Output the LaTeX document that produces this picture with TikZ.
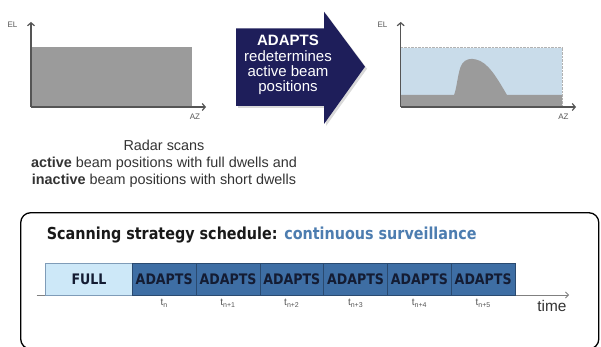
\documentclass[tikz,border=0pt]{standalone}
\usepackage{fontspec}
\setmainfont{Liberation Sans}
\newfontfamily\tah[FakeStretch=0.87]{DejaVu Sans}
\usetikzlibrary{arrows.meta,shadows}
\definecolor{navy}{HTML}{1E1E5A}
\definecolor{chartgray}{HTML}{9B9B9B}
\definecolor{lightsky}{HTML}{C9DCEA}
\definecolor{fullblue}{HTML}{CDE8F8}
\definecolor{fullborder}{HTML}{7F9CB8}
\definecolor{adblue}{HTML}{3E6EA4}
\definecolor{adborder}{HTML}{2A4A70}
\definecolor{txtdark}{HTML}{141C33}
\definecolor{titleblue}{HTML}{4D7DB0}
\definecolor{axisgray}{HTML}{555555}
\definecolor{bodytext}{HTML}{333333}
\begin{document}
\begin{tikzpicture}[x=1pt,y=-1pt,
  axis/.style={draw=axisgray,line width=1.2pt,-{Straight Barb[length=3pt,width=7pt]}},
  axlab/.style={font=\fontsize{8}{8}\selectfont,text=axisgray,inner sep=0pt},
  adbox/.style={draw=adborder,fill=adblue,line width=0.6pt,minimum width=63.8pt,minimum height=31.7pt,
    inner sep=0pt,outer sep=0pt,anchor=north west,text=txtdark,font=\tah\bfseries\fontsize{14.5}{14.5}\selectfont},
  fullbox/.style={adbox,draw=fullborder,fill=fullblue,minimum width=86.6pt},
  tlab/.style={font=\fontsize{10}{10}\selectfont,text=axisgray,inner sep=0pt,anchor=north}]
\useasboundingbox (0,0) rectangle (601,347);

% left chart
\fill[chartgray] (30.7,47.3) rectangle (191.7,106.7);
\coordinate (lo) at (31,107);
\coordinate (ly) at (31,22);
\coordinate (lx) at (206,107);
\draw[axis] (lo) -- (ly);
\draw[axis] (lo) -- (lx);
\node[axlab] (lel) at (12.5,25) {EL};
\node[axlab] (laz) at (195,117) {AZ};

% arrow
\fill[navy,drop shadow={opacity=0.3,shadow xshift=2pt,shadow yshift=-2pt}]
  (236,28.3) -- (324,28.3) -- (324,11.7) -- (365,66.7) -- (324,124) -- (324,106) -- (236,106) -- cycle;
\node[align=center,text=white,font=\fontsize{15}{15.3}\selectfont] (arrtxt) at (288,65)
  {\textbf{ADAPTS}\\redetermines\\active beam\\positions};

% right chart
\fill[lightsky] (400.7,47.7) rectangle (562,107);
\draw[gray!60,densely dotted] (400.7,47.7) -- (562,47.7) -- (562,107);
\fill[chartgray] (400.7,95) -- (454,95) .. controls (457,88) and (458,70) .. (462,64)
  .. controls (465,59) and (471,58) .. (476,59.5)
  .. controls (488,62) and (497,78) .. (507,95) -- (562,95) -- (562,107) -- (400.7,107) -- cycle;
\coordinate (ro) at (400.7,107);
\coordinate (ry) at (400.7,22);
\coordinate (rx) at (576,107);
\draw[axis] (ro) -- (ry);
\draw[axis] (ro) -- (rx);
\node[axlab] (rel) at (382.5,25) {EL};
\node[axlab] (raz) at (563.5,117) {AZ};

% description
\node[align=center,text=bodytext,font=\fontsize{14.4}{17}\selectfont] (desc) at (164,164)
  {Radar scans\\\textbf{active} beam positions with full dwells and\\\textbf{inactive} beam positions with short dwells};

% bottom panel
\draw[line width=1.3pt,rounded corners=10pt] (20.7,212.7) rectangle (598.8,349);
\node[anchor=base west,inner sep=0pt,font=\tah\bfseries\fontsize{16.5}{16.5}\selectfont] (title) at (46.7,239)
  {\textcolor{black!90}{Scanning strategy schedule:} \textcolor{titleblue}{continuous surveillance}};

\coordinate (ts) at (36.7,295);
\coordinate (te) at (569,295);
\draw[draw=gray,line width=0.8pt,-{Straight Barb[length=3pt,width=6pt]}] (ts) -- (te);
\node[fullbox] (full) at (45.7,263.3) {FULL};
\foreach \i/\s in {0/n,1/n+1,2/n+2,3/n+3,4/n+4,5/n+5}{
  \node[adbox] (a\i) at (132.3+63.8*\i,263.3) {ADAPTS};
  \node[tlab] (t\i) at ([yshift=-4pt]a\i.south) {t\textsubscript{\s}};
}
\node[text=bodytext,font=\fontsize{15.4}{15.4}\selectfont,inner sep=0pt] (time) at (552,306) {time};
\end{tikzpicture}
\end{document}
